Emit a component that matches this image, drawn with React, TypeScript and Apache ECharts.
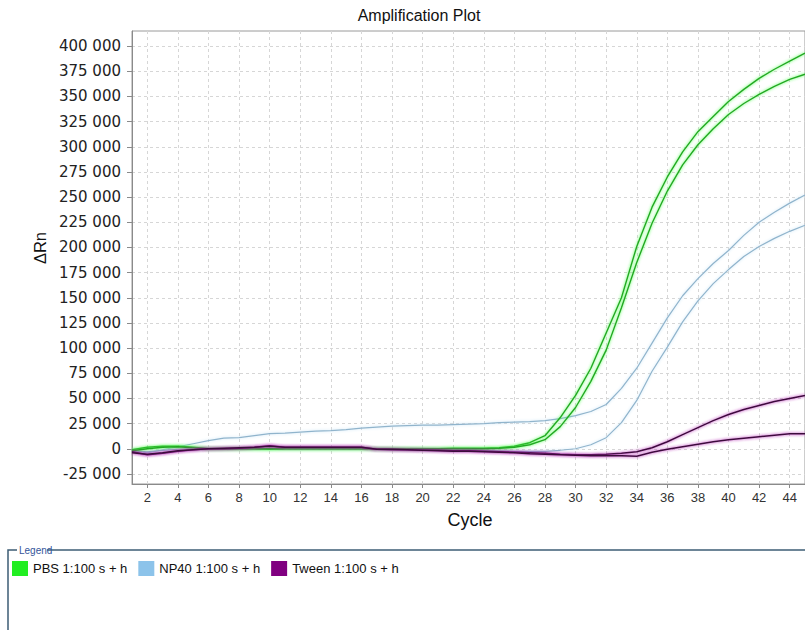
import React, { useEffect, useRef } from "react";
import * as echarts from "echarts";

// Cycle numbers and ΔRn readings for each duplicate well
const cycles = [
  1, 2, 3, 4, 5, 6, 7, 8, 9, 10, 11, 12, 13, 14, 15, 16, 17, 18, 19, 20, 21, 22, 23,
  24, 25, 26, 27, 28, 29, 30, 31, 32, 33, 34, 35, 36, 37, 38, 39, 40, 41, 42, 43, 44, 45,
];

const pbsWellA = [
  -1000, 1500, 2500, 2500, 1500, 0, 0, 0, 0, -500, 0, 0, 0, 0, 0, 0, 0, 0, 0, 0, 0, 500, 500,
  500, 1000, 2500, 6000, 13000, 31000, 53000, 80000, 115000, 150000, 201000, 240000, 270000,
  295000, 315000, 330000, 345000, 357000, 368000, 377000, 385000, 393000,
];
const pbsWellB = [
  -2000, 0, 1500, 2000, 1000, 0, 0, 0, 0, 0, 0, 0, 0, 0, 0, 0, 0, 0, 0, 0, 0, 0, 0,
  0, 500, 1500, 4000, 9000, 22000, 41000, 67000, 98000, 140000, 185000, 224000, 256000,
  282000, 302000, 318000, 332000, 343000, 352000, 360000, 367000, 372000,
];
const np40WellA = [
  -1000, -4000, -1000, 2000, 5000, 8000, 10500, 11000, 13000, 15000, 15500, 16500, 17500,
  18000, 19000, 20500, 21500, 22500, 23000, 23500, 23500, 24000, 24500, 25000, 26000, 26500,
  27000, 28000, 30000, 33000, 37000, 44000, 60000, 80000, 105000, 130000, 152000, 169000,
  184000, 197000, 212000, 225000, 235000, 244000, 252000,
];
const np40WellB = [
  -2000, -3000, -1500, -500, 0, 0, 0, 0, 0, 0, 0, 0, 0, 0, 0, 0, -500, -500, -500, -500,
  -1000, -1000, -1000, -1500, -2000, -2500, -2500, -2500, -1500, 0, 4000, 11000, 26000, 48000,
  77000, 101000, 126000, 147000, 164000, 178000, 191000, 201000, 209000, 216000, 222000,
];
const tweenWellA = [
  -3000, -6000, -4500, -2500, -1000, 0, 0, 500, 1500, 3000, 1500, 1500, 1500, 1500, 1500,
  1500, -500, -1000, -1000, -1500, -1500, -2000, -2000, -2500, -3000, -3500, -4000, -4500,
  -5500, -6000, -6000, -5500, -4500, -3000, 1000, 7000, 14000, 21000, 28000, 34000, 39000,
  43000, 47000, 50000, 53000,
];
const tweenWellB = [
  -4000, -5500, -4000, -2000, -1000, 0, 500, 1000, 1500, 2500, 1500, 1500, 1500, 1500, 1500,
  1500, -500, -500, -1000, -1500, -2000, -2500, -2500, -3000, -3500, -4000, -5000, -5500,
  -6000, -6500, -7000, -7000, -7000, -7500, -3500, -500, 2000, 4500, 7000, 9000, 10500,
  12000, 13500, 15000, 15000,
];

const sampleNames = ["PBS 1:100 s + h", "NP40 1:100 s + h", "Tween 1:100 s + h"];
const cycleTicks = [
  2, 4, 6, 8, 10, 12, 14, 16, 18, 20, 22, 24, 26, 28, 30, 32, 34, 36, 38, 40, 42, 44,
];
const rnTicks = [
  -25000, 0, 25000, 50000, 75000, 100000, 125000, 150000, 175000, 200000, 225000, 250000,
  275000, 300000, 325000, 350000, 375000, 400000,
];

const formatRn = (v: number) => {
  const s = String(Math.abs(v)).replace(/\B(?=(\d{3})+(?!\d))/g, " ");
  return (v < 0 ? "-" : "") + s;
};

const toPoints = (values: number[]) => cycles.map((c, i) => [c, values[i]]);

const makeLine = (
  name: string,
  values: number[],
  core: string,
  glow: string,
  swatch: string,
  width: number
) => ({
  name,
  type: "line",
  data: toPoints(values),
  showSymbol: false,
  symbol: "none",
  smooth: false,
  itemStyle: { color: swatch },
  lineStyle: { color: core, width, shadowColor: glow, shadowBlur: 3 },
  emphasis: { disabled: true },
});

export default function App() {
  const ref = useRef<HTMLDivElement>(null);

  useEffect(() => {
    if (!ref.current) return;
    const chart = echarts.init(ref.current, undefined, { renderer: "svg" });

    const green = "#22ee22";
    const blue = "#8cc3ea";
    const purple = "#800080";

    chart.setOption({
      animation: false,
      backgroundColor: "#ffffff",
      grid: {
        left: 132,
        top: 31,
        right: -3,
        bottom: 146,
        show: true,
        borderColor: "#9a9a9a",
        borderWidth: 1,
        backgroundColor: "#ffffff",
      },
      xAxis: {
        type: "value",
        min: 1,
        max: 45,
        axisLine: { show: true, onZero: false, lineStyle: { color: "#8a8a8a", width: 1 } },
        axisTick: {
          show: true,
          customValues: cycleTicks,
          length: 4,
          lineStyle: { color: "#8a8a8a" },
        },
        axisLabel: {
          customValues: cycleTicks,
          margin: 7,
          fontFamily: "Liberation Sans",
          fontSize: 13,
          color: "#333333",
        },
        splitLine: {
          show: true,
          lineStyle: { color: "#d6d6d6", type: [3, 3], width: 1 },
        },
      },
      yAxis: {
        type: "value",
        min: -35000,
        max: 415000,
        axisLine: { show: true, lineStyle: { color: "#8a8a8a", width: 1 } },
        axisTick: {
          show: true,
          customValues: rnTicks,
          length: 5,
          lineStyle: { color: "#8a8a8a" },
        },
        axisLabel: {
          customValues: rnTicks,
          formatter: formatRn,
          margin: 11,
          fontFamily: "DejaVu Sans",
          fontSize: 15,
          color: "#222222",
        },
        splitLine: {
          show: true,
          lineStyle: { color: "#d6d6d6", type: [3, 3], width: 1 },
        },
      },
      legend: {
        data: sampleNames,
        left: 12,
        top: 561,
        padding: 0,
        icon: "rect",
        itemWidth: 16,
        itemHeight: 15,
        itemGap: 11,
        selectedMode: false,
        textStyle: {
          fontFamily: "Liberation Sans",
          fontSize: 13,
          color: "#111111",
        },
      },
      graphic: [
        {
          type: "text",
          x: 419,
          y: 15,
          style: {
            text: "Amplification Plot",
            align: "center",
            verticalAlign: "middle",
            fontFamily: "Liberation Sans",
            fontSize: 16,
            fill: "#111111",
          },
        },
        {
          type: "text",
          x: 470,
          y: 520,
          style: {
            text: "Cycle",
            align: "center",
            verticalAlign: "middle",
            fontFamily: "Liberation Sans",
            fontSize: 18,
            fill: "#111111",
          },
        },
        {
          type: "text",
          x: 40,
          y: 248,
          rotation: Math.PI / 2,
          style: {
            text: "ΔRn",
            align: "center",
            verticalAlign: "middle",
            fontFamily: "Liberation Sans",
            fontSize: 16.5,
            fill: "#111111",
          },
        },
        {
          type: "polyline",
          shape: { points: [[8, 640], [8, 550], [17, 550]] },
          style: { stroke: "#3d5c74", lineWidth: 1.5, fill: null },
        },
        {
          type: "line",
          shape: { x1: 47, y1: 550, x2: 810, y2: 550 },
          style: { stroke: "#3d5c74", lineWidth: 1.5 },
        },
        {
          type: "text",
          x: 19,
          y: 550,
          style: {
            text: "Legend",
            align: "left",
            verticalAlign: "middle",
            fontFamily: "Liberation Sans",
            fontSize: 10,
            fill: "#34559a",
          },
        },
      ],
      series: [
        makeLine(sampleNames[1], np40WellA, "#90b4cc", "#c8e4f6", blue, 1.2),
        makeLine(sampleNames[1], np40WellB, "#90b4cc", "#c8e4f6", blue, 1.2),
        makeLine(sampleNames[0], pbsWellA, "#24a824", "#4cff4c", green, 1.4),
        makeLine(sampleNames[0], pbsWellB, "#24a824", "#4cff4c", green, 1.4),
        makeLine(sampleNames[2], tweenWellA, "#3a0c3a", "#b020b0", purple, 1.5),
        makeLine(sampleNames[2], tweenWellB, "#3a0c3a", "#b020b0", purple, 1.5),
      ],
    });

    return () => chart.dispose();
  }, []);

  return (
    <div
      ref={ref}
      style={{ position: "fixed", left: 0, top: 0, width: 805, height: 630, background: "#fff" }}
    />
  );
}
